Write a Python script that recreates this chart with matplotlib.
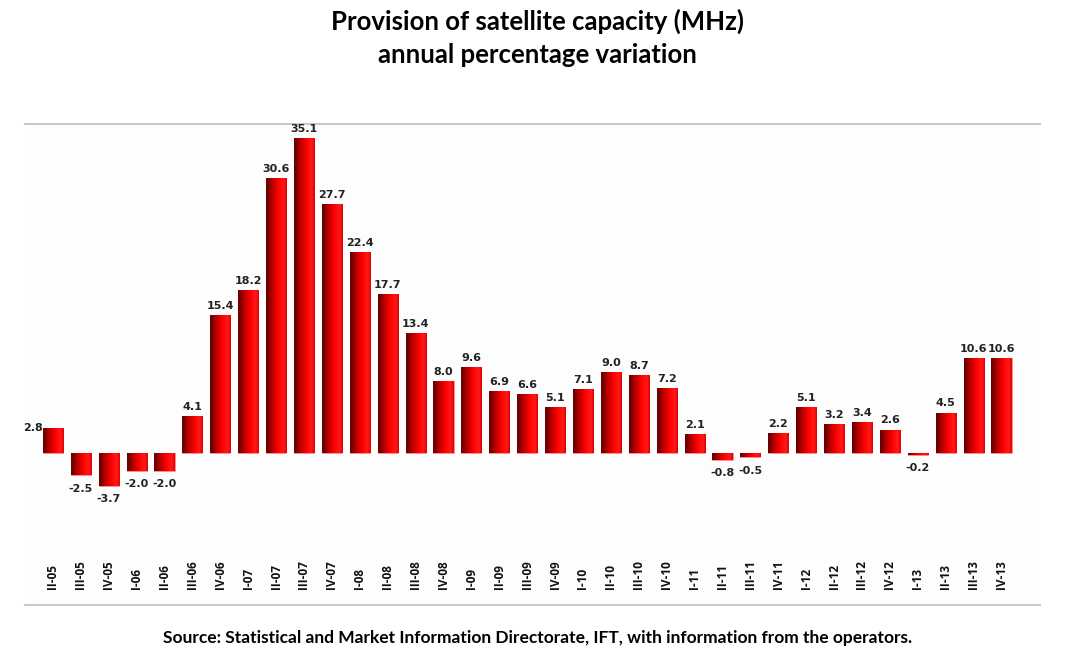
import matplotlib
matplotlib.use("Agg")
import matplotlib.pyplot as plt
import numpy as np
from matplotlib.colors import LinearSegmentedColormap
from matplotlib.transforms import blended_transform_factory

quarters = ["II-05", "III-05", "IV-05", "I-06", "II-06", "III-06", "IV-06",
            "I-07", "II-07", "III-07", "IV-07", "I-08", "II-08", "III-08", "IV-08",
            "I-09", "II-09", "III-09", "IV-09", "I-10", "II-10", "III-10", "IV-10",
            "I-11", "II-11", "III-11", "IV-11", "I-12", "II-12", "III-12", "IV-12",
            "I-13", "II-13", "III-13", "IV-13"]
variation = [2.8, -2.5, -3.7, -2.0, -2.0, 4.1, 15.4,
             18.2, 30.6, 35.1, 27.7, 22.4, 17.7, 13.4, 8.0,
             9.6, 6.9, 6.6, 5.1, 7.1, 9.0, 8.7, 7.2,
             2.1, -0.8, -0.5, 2.2, 5.1, 3.2, 3.4, 2.6,
             -0.2, 4.5, 10.6, 10.6]

title_lines = ["Provision of satellite capacity (MHz)", "annual percentage variation"]
source = "Source: Statistical and Market Information Directorate, IFT, with information from the operators."

fig = plt.figure(figsize=(10.75, 6.68), dpi=100)
fig.patch.set_facecolor("white")
ax = fig.add_axes([25/1075, 1 - 605/668, (1040 - 25)/1075, (605 - 124)/668])
ax.set_facecolor("#fdfdfd")

x = np.arange(len(quarters))
bars = ax.bar(x, variation, width=0.72, color="#ff0000", edgecolor="#ff9a9a",
              linewidth=0.4, zorder=2)

cmap = LinearSegmentedColormap.from_list(
    "cyl", [(0.0, "#5e0000"), (0.3, "#b80000"), (0.6, "#ff0000"),
            (0.85, "#ff1a1a"), (1.0, "#e00000")])
grad = np.linspace(0, 1, 64).reshape(1, -1)
for b in bars:
    x0, y0 = b.get_x(), b.get_y()
    w, h = b.get_width(), b.get_height()
    im = ax.imshow(grad, extent=[x0, x0 + w, min(y0, y0 + h), max(y0, y0 + h)],
                   aspect="auto", cmap=cmap, zorder=2.5, interpolation="bilinear")
    im.set_clip_path(b)

lab_kw = dict(fontsize=8, fontweight="bold", family="DejaVu Sans", color="#222222",
              textcoords="offset points")
for i, (b, v) in enumerate(zip(bars, variation)):
    xc = b.get_x() + b.get_width() / 2
    if i == 0:
        ax.annotate(f"{v:.1f}", (b.get_x(), v), xytext=(0, 0),
                    ha="right", va="center", **lab_kw)
    elif v >= 0:
        ax.annotate(f"{v:.1f}", (xc, v), xytext=(0, 3),
                    ha="center", va="bottom", **lab_kw)
    else:
        ax.annotate(f"{v:.1f}", (xc, v), xytext=(0, -6),
                    ha="center", va="top", **lab_kw)

ax.set_xlim(-1.0, 35.38)
ax.set_ylim(-16.95, 36.67)
ax.set_xticks([])
ax.set_yticks([])
for s in ["left", "right"]:
    ax.spines[s].set_visible(False)
for s in ["top", "bottom"]:
    ax.spines[s].set_color("#c8c8c8")
    ax.spines[s].set_linewidth(1.5)

trans = blended_transform_factory(ax.transData, ax.transAxes)
for xi, lab in zip(x, quarters):
    ax.text(xi, (605 - 589) / 481, lab, transform=trans, rotation=90,
            ha="center", va="bottom", fontsize=8.5, fontweight="bold",
            family="Open Sans", color="#111111")

fig.text(0.5, 1 - 21/668, title_lines[0], ha="center", va="center", fontsize=18.5,
         fontweight="bold", family="Lato", color="black")
fig.text(0.5, 1 - 55/668, title_lines[1], ha="center", va="center", fontsize=18.5,
         fontweight="bold", family="Lato", color="black")
fig.text(0.5, 1 - 638/668, source, ha="center", va="center", fontsize=12.5,
         fontweight="bold", family="Lato", color="black")

fig.savefig("out.png", dpi=100, facecolor="white")
